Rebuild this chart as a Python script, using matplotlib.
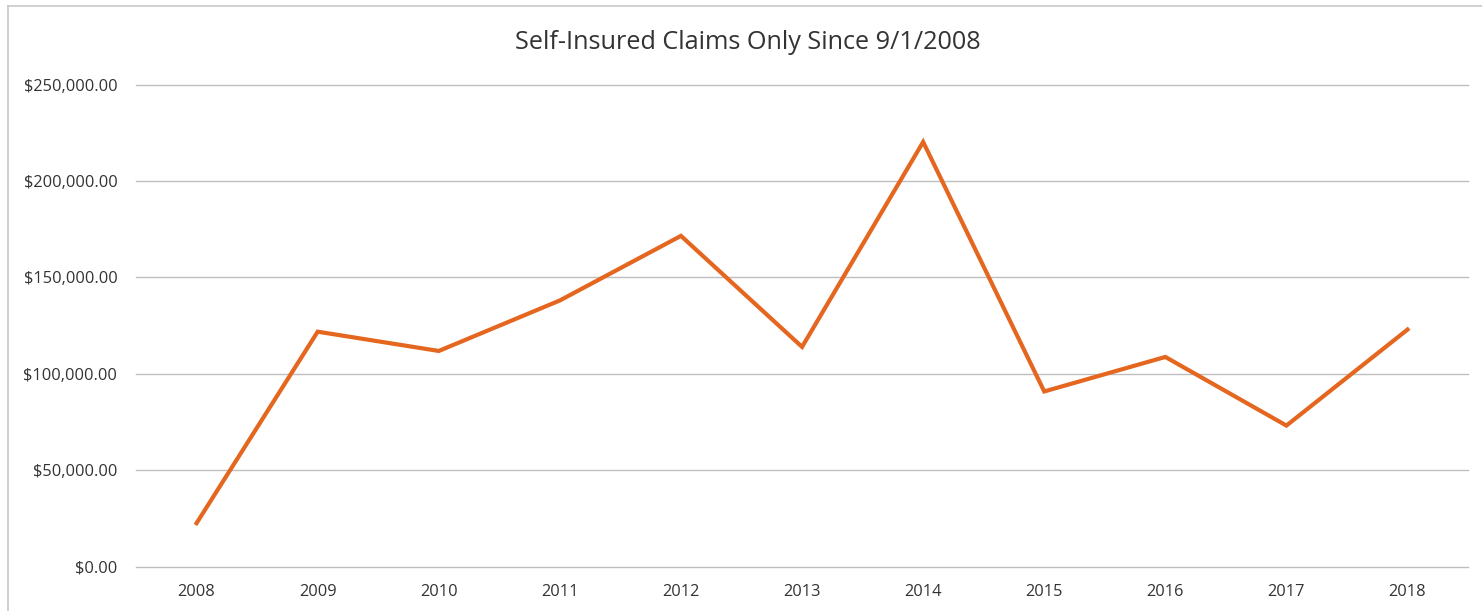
import matplotlib
matplotlib.use('Agg')
import matplotlib.pyplot as plt
from matplotlib.lines import Line2D
from matplotlib.ticker import FuncFormatter

years = ['2008', '2009', '2010', '2011', '2012', '2013',
         '2014', '2015', '2016', '2017', '2018']
claims = [22500, 121800, 111800, 138000, 171500, 113900,
          220200, 90800, 108700, 73100, 122900]
y_ticks = [0, 50000, 100000, 150000, 200000, 250000]

plt.rcParams['font.family'] = ['Open Sans', 'DejaVu Sans']

fig = plt.figure(figsize=(14.82, 6.11), dpi=100)
ax = fig.add_axes([0.0918, 0.0728, 0.9906 - 0.0918, 0.8617 - 0.0728])

x = list(range(len(years)))
ax.plot(x, claims, color='#E4661F', lw=3.0, solid_joinstyle='miter',
        zorder=3)

ax.set_xlim(-0.5, len(years) - 0.5)
ax.set_ylim(0, 250000)
ax.set_xticks(x)
ax.set_xticklabels(years)
ax.set_yticks(y_ticks)
ax.yaxis.set_major_formatter(FuncFormatter(lambda v, p: "${:,.2f}".format(v)))

ax.grid(axis='y', color='#BEBEBE', lw=1.0)
for gl in ax.get_ygridlines():
    gl.set_clip_on(False)
ax.set_axisbelow(True)
for s in ax.spines.values():
    s.set_visible(False)
ax.tick_params(axis='both', length=0, labelsize=11.8, colors='#333333')
ax.tick_params(axis='y', pad=13.5)
ax.tick_params(axis='x', pad=12.5)

fig.text(0.5044, 0.931, "Self-Insured Claims Only Since 9/1/2008",
         ha='center', va='center', fontsize=18.2, color='#333333')

# chart frame (top and left edges visible in the scan)
fig.add_artist(Line2D([8 / 1482, 8 / 1482], [0, 1 - 6 / 611],
                      transform=fig.transFigure, color='#C8C8C8', lw=1.2))
fig.add_artist(Line2D([8 / 1482, 1], [1 - 6 / 611, 1 - 6 / 611],
                      transform=fig.transFigure, color='#C8C8C8', lw=1.2))

fig.savefig('out.png', dpi=100)
